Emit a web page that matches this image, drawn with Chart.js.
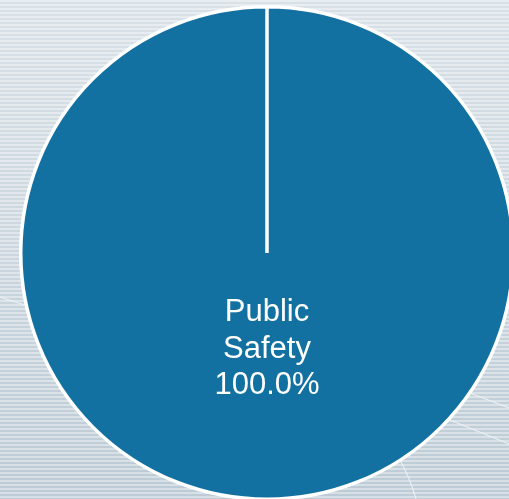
<!DOCTYPE html>
<html>
<head>
<meta charset="utf-8">
<script src="https://cdn.jsdelivr.net/npm/chart.js@4/dist/chart.umd.min.js"></script>
<style>
  html, body { margin: 0; padding: 0; width: 509px; height: 499px; overflow: hidden; }
  body {
    position: relative;
    background:
      repeating-linear-gradient(to bottom, rgba(255,255,255,0.4) 0px, rgba(255,255,255,0.4) 2px, rgba(255,255,255,0) 2px, rgba(255,255,255,0) 4px),
      linear-gradient(to bottom, #d9e1e7 0%, #cbd6de 50%, #bccbd5 100%);
  }
  #deco { position: absolute; left: 0; top: 0; }
  #wrap { position: absolute; left: 17px; top: 3px; width: 500px; height: 500px; }
</style>
</head>
<body>
<svg id="deco" width="509" height="499">
  <g stroke="#eef2f5" stroke-width="1.2" fill="none" opacity="0.9">
    <path d="M0 297 L28 306"/>
    <path d="M470 393 L509 408"/>
    <path d="M450 420 L509 444"/>
    <path d="M400 460 Q410 478 416 499"/>
  </g>
</svg>
<div id="wrap"><canvas id="pieChart" width="500" height="500"></canvas></div>
<script>
const categories = ['Public Safety'];
const shares = [100.0];
const sliceColors = ['#1271a1'];

const sliceLabels = {
  id: 'sliceLabels',
  afterDatasetsDraw(chart) {
    const ctx = chart.ctx;
    const meta = chart.getDatasetMeta(0);
    const total = shares.reduce((a, b) => a + b, 0);
    meta.data.forEach((arc, i) => {
      const p = arc.getProps(['x', 'y', 'startAngle', 'endAngle', 'outerRadius'], true);
      const mid = (p.startAngle + p.endAngle) / 2;
      const r = p.outerRadius * 0.39;
      const x = p.x + Math.cos(mid) * r;
      const y = p.y + Math.sin(mid) * r;
      const words = categories[i].split(' ');
      const lines = words.concat([(shares[i] / total * 100).toFixed(1) + '%']);
      ctx.save();
      ctx.fillStyle = '#ffffff';
      ctx.font = '31px "Liberation Sans", Arial, sans-serif';
      ctx.textAlign = 'center';
      ctx.textBaseline = 'middle';
      const lh = 36.5;
      lines.forEach((t, k) => {
        ctx.fillText(t, x, y + (k - (lines.length - 1) / 2) * lh);
      });
      ctx.restore();
    });
  }
};

new Chart(document.getElementById('pieChart'), {
  type: 'pie',
  data: {
    labels: categories,
    datasets: [{
      data: shares,
      backgroundColor: sliceColors,
      borderColor: '#ffffff',
      borderWidth: 3.5
    }]
  },
  options: {
    responsive: false,
    animation: false,
    layout: { padding: 2 },
    plugins: {
      legend: { display: false },
      tooltip: { enabled: false }
    }
  },
  plugins: [sliceLabels]
});
</script>
</body>
</html>
